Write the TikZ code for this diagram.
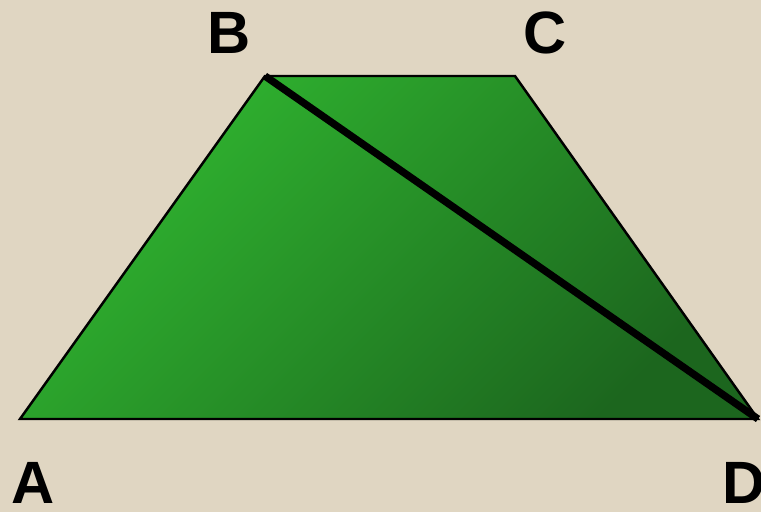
\documentclass[tikz,border=0pt]{standalone}
\usepackage{fontspec}
\setmainfont{Liberation Sans}
\definecolor{bgc}{RGB}{224,214,194}
\definecolor{glight}{RGB}{48,182,48}
\definecolor{gdark}{RGB}{28,102,30}
\tikzset{lbl/.style={font=\bfseries\fontsize{34}{34}\selectfont, text=black, inner sep=0pt}}
\begin{document}
\begin{tikzpicture}[x=0.02cm,y=-0.02cm]
\fill[bgc] (0,0) rectangle (761,512);
\useasboundingbox (0,0) rectangle (761,512);
\begin{scope}
\clip (0,0) rectangle (761,512);
\coordinate (A) at (20,419);
\coordinate (B) at (265,76);
\coordinate (C) at (515,76);
\coordinate (D) at (758,419);
\shade[top color=glight, bottom color=gdark, shading angle=45] (A) -- (B) -- (C) -- (D) -- cycle;
\draw[line width=1.4pt, line join=miter] (A) -- (B) -- (C) -- (D) -- cycle;
\draw[line width=4.2pt] (B) -- (D);
\node[lbl] (lB) at (229,33) {B};
\node[lbl] (lC) at (545,33) {C};
\node[lbl] (lA) at (33,483) {A};
\node[lbl] (lD) at (744,483) {D};
\end{scope}
\end{tikzpicture}
\end{document}
